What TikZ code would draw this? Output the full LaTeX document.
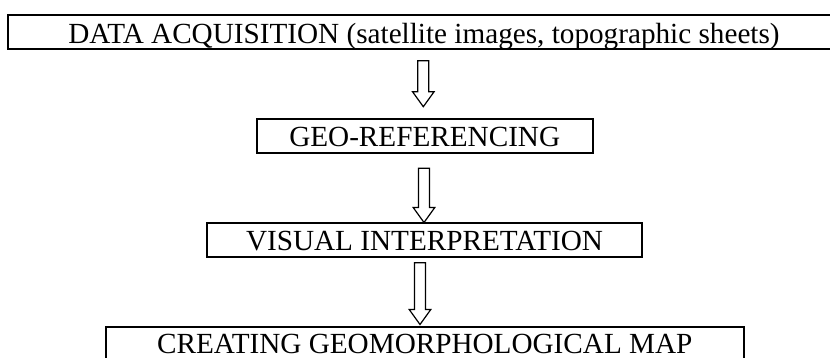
\documentclass[tikz,border=0pt]{standalone}
\usepackage{fontspec}
\setmainfont{Liberation Serif}
\usetikzlibrary{calc}
\tikzset{
  box/.style={draw=black, line width=2pt, inner sep=0pt, text height=28pt, text depth=6.7pt, font=\fontsize{29.2pt}{32pt}\selectfont},
  arrowline/.style={draw=black, line width=1.2pt, fill=white, line join=miter},
}
\newcommand\blockarrow[2]{%
  \draw[arrowline] let \p1=(#1), \p2=(#2) in
    (\x1-5.5pt,\y1) -- (\x1+5.5pt,\y1) -- (\x1+5.5pt,\y2+15pt) -- (\x1+10.8pt,\y2+15pt)
    -- (\x1,\y2) -- (\x1-10.8pt,\y2+15pt) -- (\x1-5.5pt,\y2+15pt) -- cycle;}
\begin{document}
\begin{tikzpicture}[x=1pt,y=-1pt]
\useasboundingbox (0,0) rectangle (830,358);
\fill[white] (0,0) rectangle (830,358);
\node[box, minimum width=832pt, text height=29pt, text depth=5pt, anchor=north] (b1) at (424,14) {DATA ACQUISITION (satellite images, topographic sheets)};
\node[box, minimum width=336pt, anchor=north] (b2) at (424.7,117.7) {GEO-REFERENCING};
\node[box, minimum width=435.6pt, anchor=north] (b3) at (424.5,221.7) {VISUAL INTERPRETATION};
\node[box, minimum width=637.7pt, text height=26.5pt, anchor=north] (b4) at (424.8,325.7) {CREATING GEOMORPHOLOGICAL MAP};
\coordinate (a1s) at (423.3,60.7);
\coordinate (a1e) at (423.3,106.7);
\coordinate (a2s) at (424,168.3);
\coordinate (a2e) at (424,222.5);
\coordinate (a3s) at (420,262.7);
\coordinate (a3e) at (420,324.5);
\blockarrow{a1s}{a1e}
\blockarrow{a2s}{a2e}
\blockarrow{a3s}{a3e}
\end{tikzpicture}
\end{document}
